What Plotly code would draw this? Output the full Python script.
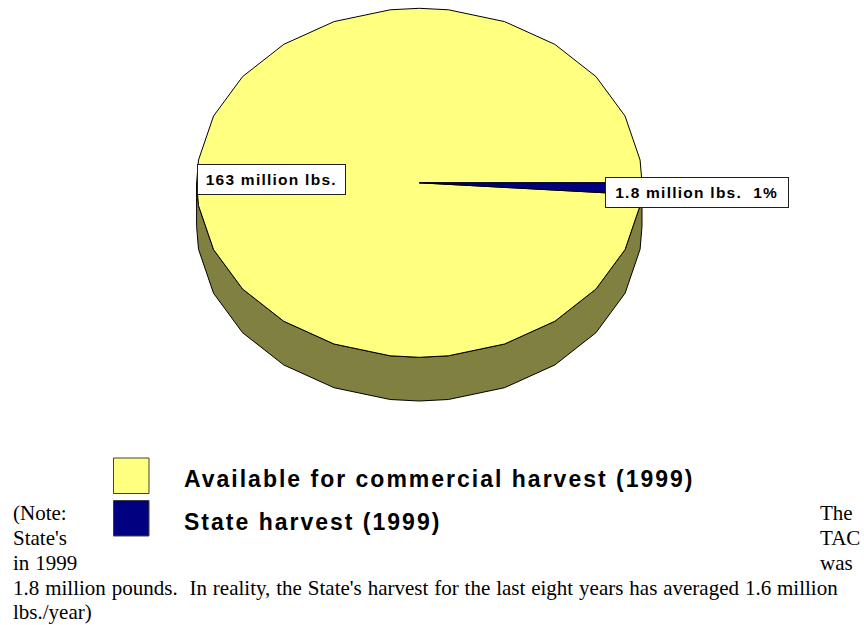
import math
import plotly.graph_objects as go

# ---- data ----
SLICE_NAMES = ["State harvest (1999)", "Available for commercial harvest (1999)"]
SLICE_VALUES = [1.8, 163]
SLICE_LABELS = ["1.8 million lbs.\u00a0\u00a01%", "163 million lbs."]
LEGEND_ORDER = ["Available for commercial harvest (1999)", "State harvest (1999)"]
NOTE_LEFT = ["(Note:", "State's", "in 1999"]
NOTE_RIGHT = ["The", "TAC", "was"]
NOTE_FULL = ["1.8 million pounds.\u00a0\u00a0In reality, the State's harvest for the last eight years has averaged 1.6 million",
             "lbs./year)"]

# ---- style / layout ----
W, H = 864, 625
CX, CY, RX, RY, DEPTH = 419.3, 182.8, 222.7, 174.5, 43.7
YELLOW, NAVY, OLIVE = "#FFFF80", "#000080", "#808040"
FACET, OFFSET = 15.0, 7.5
SERIF = "Liberation Serif, Times New Roman, serif"
SANS = "Liberation Sans, Arial, sans-serif"


def px(x):
    return x / W


def py(y):
    return 1 - y / H


def rim(a0, a1):
    """Angles (deg clockwise from top) of a faceted rim between a0 and a1."""
    angs = {a0, a1}
    for k in range(0, 48):
        a = OFFSET + k * FACET
        if a0 < a < a1:
            angs.add(a)
    for a in (90.0, 180.0, 270.0, 360.0, 450.0):
        if a0 < a < a1:
            angs.add(a)
    return sorted(angs)


def pt(a):
    r = math.radians(a)
    return math.sin(r), math.cos(r)


total = sum(SLICE_VALUES)
depth = DEPTH / RY
start = 90.0
sweeps = [v / total * 360 for v in SLICE_VALUES]
fig = go.Figure()

# side wall of the front half
wall = rim(90.0, 270.0)
wx = [pt(a)[0] for a in wall] + [pt(a)[0] for a in reversed(wall)]
wy = [pt(a)[1] for a in wall] + [pt(a)[1] - depth for a in reversed(wall)]
fig.add_trace(go.Scatter(x=wx + wx[:1], y=wy + wy[:1], mode="lines", fill="toself", fillcolor=OLIVE,
                         line=dict(color="black", width=1), hoverinfo="skip", showlegend=False))

# top faces
colors = [NAVY, YELLOW]
a = start
order = []
for name, sw, col in zip(SLICE_NAMES, sweeps, colors):
    order.append((name, a, a + sw, col))
    a += sw
for name, a0, a1, col in reversed(order):
    angs = rim(a0, a1)
    xs = [0] + [pt(t)[0] for t in angs] + [0]
    ys = [0] + [pt(t)[1] for t in angs] + [0]
    fig.add_trace(go.Scatter(x=xs, y=ys, mode="lines", fill="toself", fillcolor=col,
                             line=dict(color="black", width=1), name=name, showlegend=False))

annotations = []
shapes = []


def text(x, y, s, size, family, color="black", weight=None, anchor="left"):
    annotations.append(dict(x=px(x), y=py(y), xref="paper", yref="paper", text=s, showarrow=False,
                            xanchor=anchor, yanchor="middle", align=anchor, borderpad=0,
                            font=dict(size=size, family=family, color=color, weight=weight)))


# data labels
for lab, (x0, y0, x1, y1) in zip(SLICE_LABELS, [(604.5, 176.5, 788, 207), (196.5, 163.5, 345, 194.5)]):
    annotations.append(dict(x=px(x0), y=py(y0), xref="paper", yref="paper", xanchor="left", yanchor="top",
                            width=x1 - x0 - 2, height=y1 - y0 - 2, text=lab, showarrow=False,
                            align="center", valign="middle", bgcolor="white", bordercolor="#202020",
                            borderwidth=1, borderpad=0,
                            font=dict(size=15.5, family=SANS, color="black", weight="bold")))

# legend
for name, y0, col in zip(LEGEND_ORDER, [458, 500.5], [YELLOW, NAVY]):
    shapes.append(dict(type="rect", xref="paper", yref="paper", x0=px(113.5), x1=px(149), y0=py(y0), y1=py(y0 + 35.5),
                       fillcolor=col, line=dict(color="#404040", width=1)))
    text(183, y0 + 21, name, 23, SANS, weight="bold")

# note text
for s, y in zip(NOTE_LEFT, [513, 538, 563]):
    text(11.5, y, s, 21, SERIF)
for s, y in zip(NOTE_RIGHT, [513, 538, 563]):
    text(818.5, y, s, 21, SERIF)
for s, y in zip(NOTE_FULL, [588, 612]):
    text(11.5, y, s, 21, SERIF)

fig.update_layout(
    width=W, height=H, autosize=False, margin=dict(l=0, r=0, t=0, b=0),
    paper_bgcolor="white", plot_bgcolor="white", showlegend=False,
    annotations=annotations, shapes=shapes,
    xaxis=dict(visible=False, range=[-CX / RX, (W - CX) / RX], fixedrange=True),
    yaxis=dict(visible=False, range=[-(H - CY) / RY, CY / RY], fixedrange=True),
)
POST = """
document.body.style.margin='0';
document.querySelectorAll('.annotation-text').forEach(function(t){
  var s = parseFloat(t.style.fontSize);
  if (s === 23) t.style.letterSpacing = '2px';
  if (s === 15.5) t.style.letterSpacing = '1.25px';
  if (s === 21) t.style.wordSpacing = '0.65px';
});
"""
fig.write_html("out.html", post_script=POST, config={"displayModeBar": False})
